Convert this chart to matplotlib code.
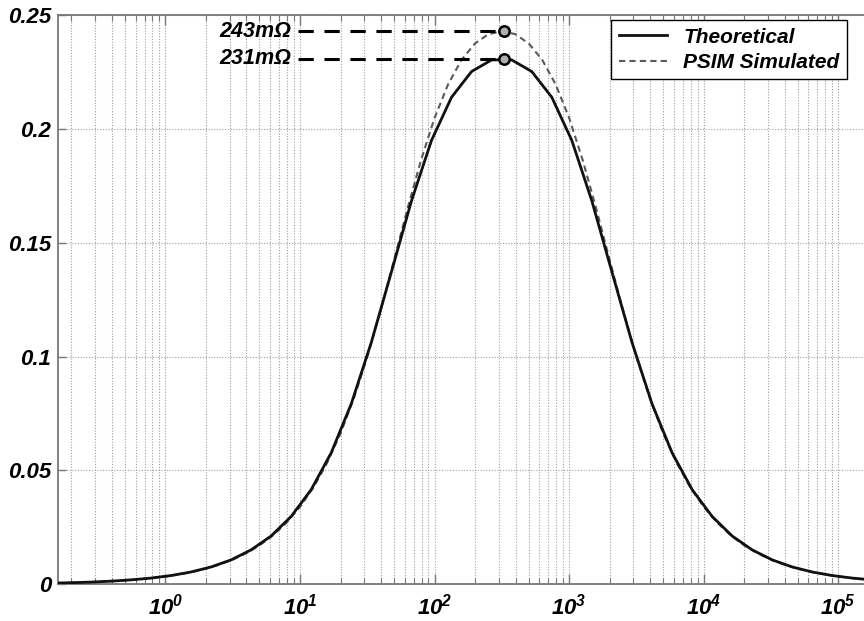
import math
import matplotlib
matplotlib.use("Agg")
import matplotlib.pyplot as plt
from matplotlib.ticker import LogLocator, FixedLocator, FuncFormatter, NullFormatter

# ---- data ----
theo_freq = [0.140, 0.197, 0.278, 0.392, 0.552, 0.778, 1.096, 1.545, 2.178, 3.069,
             4.325, 6.095, 8.590, 12.11, 17.06, 24.04, 33.88, 47.75, 67.30, 94.84,
             133.7, 188.4, 265.5, 374.1, 527.2, 743.0, 1047, 1476, 2080, 2931,
             4130, 5821, 8204, 11560, 16290, 22960, 32360, 45600, 64270, 90570,
             127600, 179900]
theo_val = [0.00049, 0.00069, 0.00097, 0.00137, 0.00193, 0.00272, 0.00383, 0.00539, 0.0076, 0.0107,
            0.0151, 0.0212, 0.0298, 0.0416, 0.0578, 0.0793, 0.1063, 0.1372, 0.1684, 0.1950,
            0.2140, 0.2253, 0.2304, 0.2304, 0.2253, 0.2140, 0.1950, 0.1684, 0.1372, 0.1063,
            0.0793, 0.0578, 0.0416, 0.0298, 0.0212, 0.0151, 0.0107, 0.0076, 0.00539, 0.00383,
            0.00272, 0.00193]

sim_freq = [0.1585, 0.1995, 0.2512, 0.3162, 0.3981, 0.5012, 0.6310, 0.7943,
            1, 1.259, 1.585, 1.995, 2.512, 3.162, 3.981, 5.012, 6.310, 7.943,
            10, 12.59, 15.85, 19.95, 25.12, 31.62, 39.81, 50.12, 63.10, 79.43,
            100, 125.9, 158.5, 199.5, 251.2, 316.2, 398.1, 501.2, 631.0, 794.3,
            1000, 1259, 1585, 1995, 2512, 3162, 3981, 5012, 6310, 7943,
            10000, 12590, 15850, 19950, 25120, 31620, 39810, 50120, 63100, 79430,
            100000, 125900, 158500]
sim_val = [0.00054, 0.00068, 0.00086, 0.00108, 0.00137, 0.00172, 0.00216, 0.00273,
           0.00343, 0.00432, 0.00544, 0.00685, 0.00862, 0.01084, 0.01364, 0.01715, 0.02156, 0.0271,
           0.0340, 0.0426, 0.0532, 0.0661, 0.0817, 0.0999, 0.1205, 0.1427, 0.1653, 0.1865,
           0.2049, 0.2196, 0.2304, 0.2376, 0.2417, 0.2430, 0.2417, 0.2376, 0.2304, 0.2196,
           0.2049, 0.1865, 0.1653, 0.1427, 0.1205, 0.0999, 0.0817, 0.0661, 0.0532, 0.0426,
           0.0340, 0.0271, 0.02156, 0.01715, 0.01364, 0.01084, 0.00862, 0.00685, 0.00544, 0.00432,
           0.00343, 0.00273, 0.00216]

peak_freq = 327
peak_theo = 0.231
peak_sim = 0.243
peak_labels = ["243m\u03A9", "231m\u03A9"]
label_freq = 8.6
leader_start = 9.6

x_limits = (0.159, 1.59e5)
x_major = [1, 10, 100, 1000, 10000, 100000]
y_ticks = [0, 0.05, 0.1, 0.15, 0.2, 0.25]
y_tick_labels = ["0", "0.05", "0.1", "0.15", "0.2", "0.25"]
series_names = ["Theoretical", "PSIM Simulated"]

# ---- style ----
plt.rcParams['font.family'] = ['Liberation Sans', 'DejaVu Sans']
plt.rcParams['mathtext.fontset'] = 'custom'
plt.rcParams['mathtext.rm'] = 'Liberation Sans:bold:italic'
plt.rcParams['mathtext.it'] = 'Liberation Sans:bold:italic'
plt.rcParams['mathtext.bf'] = 'Liberation Sans:bold:italic'

fig = plt.figure(figsize=(8.64, 6.21), dpi=100)
ax = fig.add_axes([0.0671, 0.0591, 0.9345, 0.9163])

grid_kw = dict(color='#a0a0a0', linestyle=(0, (1, 1.5)), linewidth=0.8)

ax.plot(theo_freq, theo_val, color='#111111', linewidth=2.0, label=series_names[0], zorder=4)
ax.plot(sim_freq, sim_val, color='#5a5a5a', linewidth=1.5, linestyle=(0, (3, 2)),
        label=series_names[1], zorder=3)

# leader lines and markers
for yv, lab in zip([peak_sim, peak_theo], peak_labels):
    ax.plot([leader_start, peak_freq], [yv, yv], color='black', linewidth=2.2,
            linestyle=(0, (5, 3.5)), zorder=5)
    ax.plot([peak_freq], [yv], marker='o', markersize=7.5, markerfacecolor='#b0b0b0',
            markeredgecolor='black', markeredgewidth=1.8, zorder=6)
    ax.text(label_freq, yv, lab, ha='right', va='center', fontsize=15.5,
            fontweight='bold', fontstyle='italic')

ax.set_xscale('log')
ax.set_xlim(*x_limits)
ax.set_ylim(0, 0.25)

ax.xaxis.set_major_locator(FixedLocator(x_major))
ax.xaxis.set_minor_locator(LogLocator(base=10, subs=range(2, 10), numticks=100))
ax.xaxis.set_major_formatter(FuncFormatter(lambda v, p: r"$10^{%d}$" % round(math.log10(v))))
ax.xaxis.set_minor_formatter(NullFormatter())
ax.yaxis.set_major_locator(FixedLocator(y_ticks))
ax.set_yticklabels(y_tick_labels)

ax.grid(True, which='major', axis='both', **grid_kw)
ax.grid(True, which='minor', axis='x', **grid_kw)
ax.set_axisbelow(True)

ax.tick_params(axis='both', which='both', direction='in', top=True, right=False,
               color='#777777', labelsize=16)
ax.tick_params(axis='x', which='major', length=7, width=1.0, pad=7)
ax.tick_params(axis='x', which='minor', length=4, width=0.8)
ax.tick_params(axis='y', which='major', length=6, width=1.0, pad=5)
for lab in ax.get_xticklabels() + ax.get_yticklabels():
    lab.set_fontweight('bold')
    lab.set_fontstyle('italic')

for s in ax.spines.values():
    s.set_color('#777777')
    s.set_linewidth(1.3)

leg = ax.legend(loc='upper right', bbox_to_anchor=(0.977, 0.991), borderaxespad=0,
                frameon=True, fancybox=False,
                edgecolor='black', framealpha=1, handlelength=2.3, borderpad=0.35,
                labelspacing=0.3, handletextpad=0.8,
                prop={'weight': 'bold', 'style': 'italic', 'size': 15})
leg.get_frame().set_linewidth(1.0)

fig.savefig('out.png', dpi=100)
